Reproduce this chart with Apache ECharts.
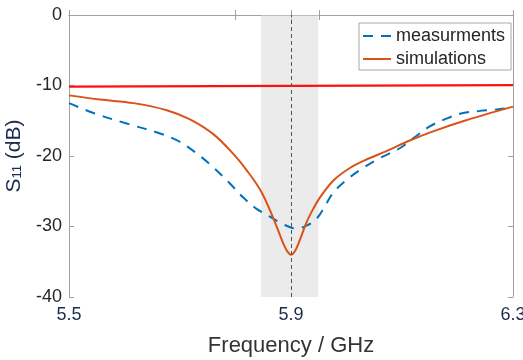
<!DOCTYPE html>
<html>
<head>
<meta charset="utf-8">
<script src="https://cdn.jsdelivr.net/npm/echarts@6/dist/echarts.min.js"></script>
<style>
  html, body { margin: 0; padding: 0; background: #fff; }
  #chart { width: 523px; height: 360px; }
</style>
</head>
<body>
<div id="chart"></div>
<script>
  // measured S11 (dashed blue)
  const measFreq = [5.5, 5.544, 5.604, 5.664, 5.7, 5.736, 5.76, 5.79, 5.814, 5.838, 5.862, 5.884, 5.91, 5.93, 5.946, 5.96, 5.975, 6.0, 6.03, 6.06, 6.096, 6.12, 6.15, 6.18, 6.21, 6.24, 6.27, 6.3]
  const measS11 = [-12.5, -13.9, -15.4, -16.8, -18.0, -20.0, -21.6, -23.9, -25.9, -27.5, -28.6, -29.6, -30.3, -29.8, -28.9, -27.3, -25.3, -23.4, -21.7, -20.3, -18.9, -17.5, -15.8, -14.7, -13.9, -13.6, -13.4, -13.1]
  // simulated S11 (solid orange)
  const simFreq = [5.5, 5.556, 5.616, 5.676, 5.718, 5.76, 5.796, 5.82, 5.846, 5.868, 5.886, 5.893, 5.9, 5.907, 5.914, 5.928, 5.94, 5.952, 5.976, 6.006, 6.036, 6.072, 6.114, 6.156, 6.217, 6.3]
  const simS11 = [-11.4, -12.0, -12.5, -13.5, -14.8, -16.9, -19.7, -22.0, -25.0, -28.8, -32.4, -33.5, -34.0, -33.5, -32.3, -29.4, -27.5, -25.9, -23.5, -21.7, -20.5, -19.3, -17.8, -16.5, -14.9, -13.0]
  // -10 dB reference line
  const refFreq = [5.5, 6.3]
  const refS11 = [-10.15, -9.95]
  // shaded band and centre frequency
  const band = [5.846, 5.949]
  const centreFreq = 5.9
  // ticks
  const xTicks = [5.5, 5.8, 5.9, 5.95, 6.3]
  const xLabels = [5.5, 5.9, 6.3]

  const pairs = (xs, ys) => xs.map((x, i) => [x, ys[i]])

  const font = 'Arial, "Liberation Sans", sans-serif'
  const axisGray = '#a0a0a0'
  const navy = '#1c2c4c'

  const chart = echarts.init(document.getElementById('chart'))
  chart.setOption({
    animation: false,
    grid: { left: 69, right: 10, top: 15, bottom: 63, outerBoundsMode: 'none' },
    legend: {
      data: ['measurments', 'simulations'],
      orient: 'vertical',
      left: 359,
      top: 23,
      padding: [4, 6, 2, 3],
      itemWidth: 28,
      itemHeight: 14,
      itemGap: 5,
      borderColor: '#a8a8a8',
      borderWidth: 1,
      backgroundColor: '#fff',
      itemStyle: { opacity: 0 },
      textStyle: { fontSize: 18, color: '#262626', fontFamily: font }
    },
    xAxis: [
      {
        type: 'value', min: 5.5, max: 6.3, position: 'bottom',
        name: 'Frequency / GHz', nameLocation: 'middle', nameGap: 38,
        nameTextStyle: { fontSize: 22, color: '#333', fontFamily: font },
        axisLine: { lineStyle: { color: axisGray } },
        axisTick: { inside: true, length: 5, customValues: xTicks, lineStyle: { color: axisGray } },
        axisLabel: { customValues: xLabels, fontSize: 18, color: navy, fontFamily: font, margin: 9,
          formatter: v => v.toFixed(1) },
        splitLine: { show: false }
      },
      {
        type: 'value', min: 5.5, max: 6.3, position: 'top',
        axisLine: { lineStyle: { color: axisGray } },
        axisTick: { inside: true, length: 5, customValues: xTicks, lineStyle: { color: axisGray } },
        axisLabel: { show: false },
        splitLine: { show: false }
      }
    ],
    yAxis: [
      {
        type: 'value', min: -40, max: 0, interval: 10, position: 'left',
        name: 'S{sub|11} (dB)', nameLocation: 'middle', nameGap: 36, nameRotate: 90,
        nameTextStyle: { fontSize: 21, color: navy, fontFamily: font,
          rich: { sub: { fontSize: 13, color: navy, fontFamily: font, padding: [6, 0, 0, 0] } } },
        axisLine: { show: true, lineStyle: { color: axisGray } },
        axisTick: { show: true, inside: true, length: 5, lineStyle: { color: axisGray } },
        axisLabel: { fontSize: 18, color: '#262626', fontFamily: font, margin: 7 },
        splitLine: { show: false }
      },
      {
        type: 'value', min: -40, max: 0, interval: 10, position: 'right',
        axisLine: { show: true, lineStyle: { color: axisGray } },
        axisTick: { show: true, inside: true, length: 5, lineStyle: { color: axisGray } },
        axisLabel: { show: false },
        splitLine: { show: false }
      }
    ],
    series: [
      {
        name: 'ref', type: 'line', data: pairs(refFreq, refS11),
        symbol: 'none', silent: true,
        lineStyle: { color: '#ff1010', width: 2.2 }
      },
      {
        name: 'measurments', type: 'line', data: pairs(measFreq, measS11),
        symbol: 'none', smooth: 0.35,
        itemStyle: { color: '#0072BD' },
        lineStyle: { color: '#0072BD', width: 2, type: [10, 8] }
      },
      {
        name: 'simulations', type: 'line', data: pairs(simFreq, simS11),
        symbol: 'none', smooth: 0.35,
        itemStyle: { color: '#D95319' },
        lineStyle: { color: '#D95319', width: 2 }
      },
      {
        name: 'band', type: 'line', data: [], silent: true,
        markArea: {
          z: 3, silent: true,
          itemStyle: { color: 'rgba(215,215,215,0.5)' },
          data: [[{ xAxis: band[0] }, { xAxis: band[1] }]]
        },
        markLine: {
          z: 5, silent: true, symbol: 'none', label: { show: false },
          lineStyle: { color: '#555', type: [4, 3], width: 1 },
          data: [{ xAxis: centreFreq }]
        }
      }
    ]
  })
</script>
</body>
</html>
